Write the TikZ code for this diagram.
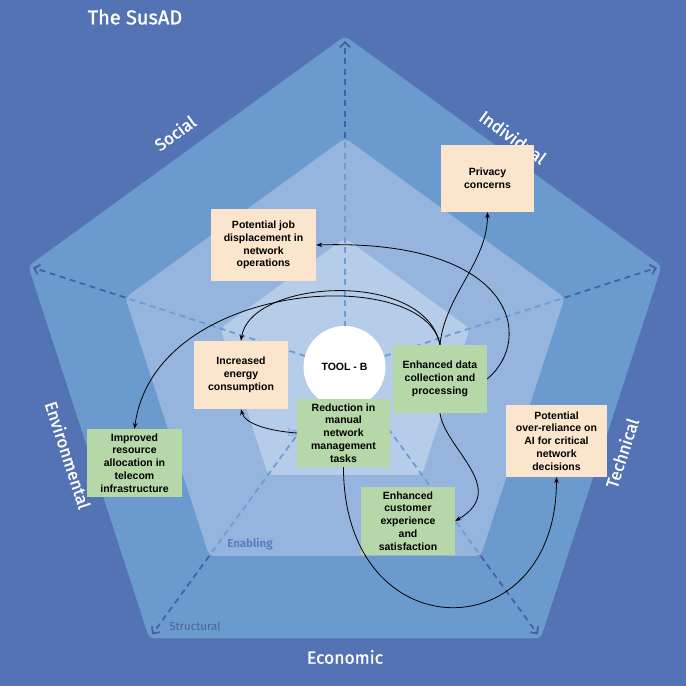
\documentclass[tikz,border=0pt]{standalone}
\usepackage{fontspec}
\setmainfont{Liberation Sans}
\newfontfamily\susfont[FakeBold=1.2]{Fira Sans}
\newfontfamily\lvlfont{Fira Sans}
\usepackage{tikz}
\usetikzlibrary{arrows.meta,calc}
\definecolor{susbg}{HTML}{5373B4}
\definecolor{ringA}{HTML}{6B9BCE}
\definecolor{ringB}{HTML}{95B5DE}
\definecolor{ringC}{HTML}{B5CDE9}
\definecolor{riskfill}{HTML}{FCE5CD}
\definecolor{gainfill}{HTML}{B6D7A8}
\definecolor{axisdark}{HTML}{4462A3}
\definecolor{axislight}{HTML}{6C9CD8}
\definecolor{levelA}{HTML}{4D629A}
\definecolor{levelB}{HTML}{5A7EC4}
\definecolor{levelC}{HTML}{8DB1E4}
\tikzset{
  risk/.style={fill=riskfill,align=center,inner sep=0pt,font=\bfseries\fontsize{10.5}{12.8}\selectfont},
  gain/.style={fill=gainfill,align=center,inner sep=0pt,font=\bfseries\fontsize{10.5}{12.8}\selectfont},
  dim/.style={text=white,font=\susfont\fontsize{17}{17}\selectfont},
  level/.style={font=\lvlfont\bfseries\fontsize{11.5}{12}\selectfont},
  spoke/.style={dash pattern=on 6pt off 4.5pt,line width=1.8pt},
  link/.style={-{Stealth[length=6pt,width=4.5pt]},line width=0.8pt},
}
\begin{document}
\begin{tikzpicture}[x=1pt,y=1pt]
  % background and the three rings
  \fill[susbg] (-345,-317) rectangle (341,369);
  \useasboundingbox (-345,-317) rectangle (341,369);
  \foreach \r/\c in {333/ringA,231/ringB,131/ringC}
    \fill[\c,rounded corners=5pt] (90:\r) -- (162:\r) -- (234:\r) -- (306:\r) -- (18:\r) -- cycle;
  \foreach \a in {90,162,234,306,18} {
    \draw[spoke,axislight] (0,0) -- (\a:231);
    \draw[spoke,axisdark,-{Straight Barb[length=5pt,width=10pt]}] (\a:231) -- (\a:328);
  }

  % dimension labels
  \node[text=white,font=\susfont\fontsize{20}{20}\selectfont] (title) at (-210,352) {The SusAD};
  \node[dim,rotate=36] (social) at (-170,236) {Social};
  \node[dim,rotate=-36] (individual) at (168,232) {Individual};
  \node[dim,rotate=72] (technical) at (277,-84) {Technical};
  \node[dim,rotate=-72] (environmental) at (-277,-86) {Environmental};
  \node[dim,font=\susfont\fontsize{17.5}{18}\selectfont] (economic) at (0,-288) {Economic};
  \node[text=levelA,font=\lvlfont\fontsize{11.5}{12}\selectfont] (structural) at (-150,-257) {Structural};
  \node[level,text=levelB] (enabling) at (-95,-175) {Enabling};
  \node[level,text=levelC,anchor=west] (immediate) at (-61,-63) {Immediate};

  % centre
  \node[circle,fill=white,minimum size=82pt,font=\bfseries\fontsize{10.5}{11}\selectfont] (tool) at (-0.5,2) {TOOL - B};

  % effects
  \node[risk,minimum width=93pt,minimum height=67pt] (privacy) at (142.5,190.5) {Privacy\\concerns};
  \node[risk,minimum width=105pt,minimum height=72pt] (job) at (-81.5,124) {Potential job\\displacement in\\network\\operations};
  \node[risk,minimum width=94pt,minimum height=68pt] (energy) at (-104,-6) {Increased\\energy\\consumption};
  \node[gain,minimum width=94pt,minimum height=68pt] (data) at (95,-10) {Enhanced data\\collection and\\processing};
  \node[gain,minimum width=95pt,minimum height=68pt] (improved) at (-210.5,-94) {Improved\\resource\\allocation in\\telecom\\infrastructure};
  \node[gain,minimum width=94pt,minimum height=68pt] (customer) at (63,-152) {Enhanced\\customer\\experience\\and\\satisfaction};
  \node[risk,minimum width=101pt,minimum height=72pt] (overreliance) at (211.5,-72) {Potential\\over-reliance on\\AI for critical\\network\\decisions};
  \node[gain,minimum width=93pt,minimum height=68pt] (reduction) at (-1.5,-64) {Reduction in\\manual\\network\\management\\tasks};

  % links
  \draw[link] (data.north) .. controls +(5,50) and +(0,-50) .. (privacy.south);
  \draw[link] (data.north) .. controls +(-15,76) and +(9,62) .. (energy.north);
  \draw[link] (data.north) .. controls +(-15,81) and +(20,150) .. (improved.north);
  \draw[link] (data.east) .. controls +(48,40) and +(199,6) .. (job.east);
  \draw[link] (data.south) .. controls +(5,-36) and +(55,32) .. (customer.east);
  \draw[link] (reduction.west) .. controls +(-27,2) and +(4,-15) .. (energy.south);
  \draw[link] (reduction.south) .. controls +(0,-185) and +(0,-175) .. (overreliance.south);
\end{tikzpicture}
\end{document}
